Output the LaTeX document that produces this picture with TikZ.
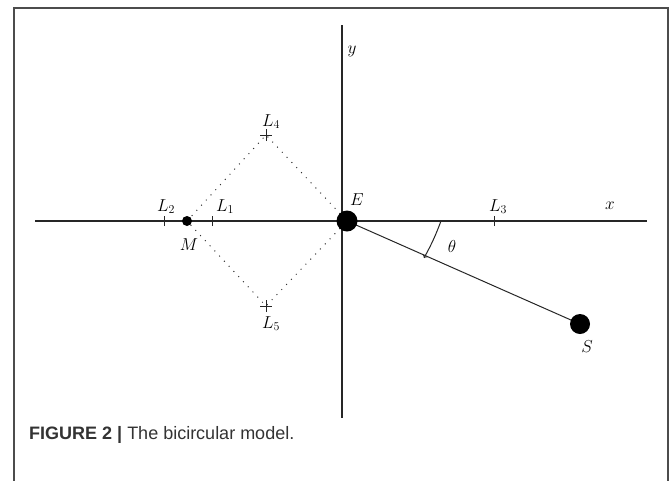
\documentclass[tikz,border=0pt]{standalone}
\usepackage{fontspec}
\newfontfamily\capfont{Liberation Sans}
\begin{document}
\begin{tikzpicture}[x=1pt,y=-1pt,
  axis/.style={line width=1.4pt,draw=black!85},
  thin/.style={line width=1pt,draw=black!85},
  dotline/.style={line width=1pt,draw=black!80,dash pattern=on 1pt off 6pt},
  lbl/.style={inner sep=0pt,anchor=base,font=\fontsize{18}{20}\selectfont},
  body/.style={circle,fill=black,inner sep=0pt},
  tickmark/.style={line width=1pt,draw=black!85}]
\useasboundingbox (0,0) rectangle (669,480);
% frame
\draw[line width=1.2pt,black!70] (14,481) -- (14,8) -- (668,8) -- (668,481);
% axes
\coordinate (xl) at (35,221);
\coordinate (xr) at (647,221);
\coordinate (yt) at (342,25);
\coordinate (yb) at (342,418);
\draw[axis] (xl) -- (xr);
\draw[axis] (yt) -- (yb);
% points
\coordinate (Mc) at (187,221);
\coordinate (Ec) at (347,221);
\coordinate (L4c) at (266,135);
\coordinate (L5c) at (266,306);
\coordinate (L1c) at (212,221);
\coordinate (L2c) at (164,221);
\coordinate (L3c) at (494,221);
\coordinate (Sc) at (580,324);
% dotted diamond
\draw[dotline] (Mc) -- (L4c) -- (Ec) -- (L5c) -- (Mc);
% E-S line
\draw[thin] (Ec) -- (Sc);
% ticks
\draw[tickmark] ([yshift=-5pt]L1c) -- ([yshift=5pt]L1c);
\draw[tickmark] ([yshift=-5pt]L2c) -- ([yshift=5pt]L2c);
\draw[tickmark] ([yshift=-5pt]L3c) -- ([yshift=5pt]L3c);
\draw[tickmark] ([xshift=-6pt]L4c) -- ([xshift=6pt]L4c) ([yshift=-6pt]L4c) -- ([yshift=6pt]L4c);
\draw[tickmark] ([xshift=-6pt]L5c) -- ([xshift=6pt]L5c) ([yshift=-6pt]L5c) -- ([yshift=6pt]L5c);
% bodies
\node[body,minimum size=10pt] (M) at (Mc) {};
\node[body,minimum size=21pt] (E) at (Ec) {};
\node[body,minimum size=20pt] (S) at (Sc) {};
% theta arrow
\coordinate (ta) at (441,221);
\coordinate (tb) at (424,258);
\draw[thin,->] (ta) to[bend left=4] (tb);
% labels
\node[lbl] (lL2) at (166,211) {$L_2$};
\node[lbl] (lL1) at (225,211) {$L_1$};
\node[lbl] (lM) at (189,250) {$M$};
\node[lbl] (lE) at (357,205) {$E$};
\node[lbl] (lL3) at (498,211) {$L_3$};
\node[lbl] (lx) at (610,209) {$x$};
\node[lbl] (ly) at (352,53) {$y$};
\node[lbl] (lL4) at (271,126) {$L_4$};
\node[lbl] (lL5) at (271,328) {$L_5$};
\node[lbl] (lth) at (452,252) {$\theta$};
\node[lbl] (lS) at (587,352) {$S$};
% caption
\node[inner sep=0pt,anchor=base west,font=\capfont\fontsize{18}{20}\selectfont,text=black!80] (cap) at (29,439) {\textbf{FIGURE 2 |} The bicircular model.};
\end{tikzpicture}
\end{document}
